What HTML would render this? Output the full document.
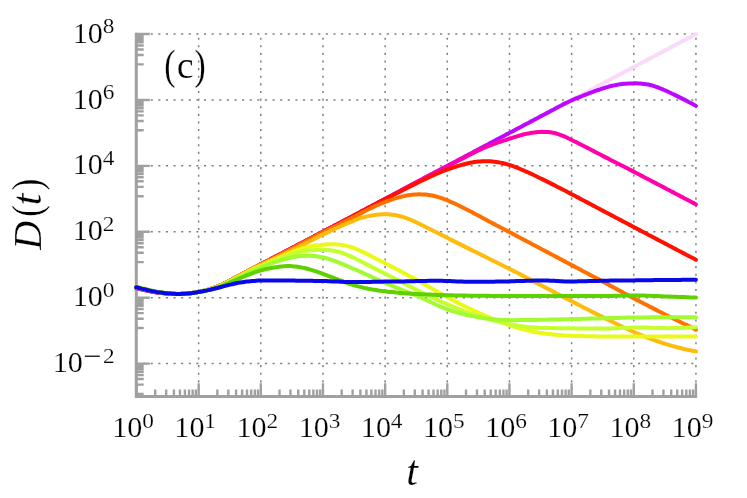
<!DOCTYPE html>
<html><head><meta charset="utf-8"><title>D(t)</title>
<style>html,body{margin:0;padding:0;background:#fff}svg{display:block;will-change:transform}</style>
</head><body>
<svg width="747" height="498" viewBox="0 0 747 498">
<rect width="747" height="498" fill="#fff"/>
<path d="M198.66,397.63V33.02M260.82,397.63V33.02M322.98,397.63V33.02M385.14,397.63V33.02M447.30,397.63V33.02M509.46,397.63V33.02M571.62,397.63V33.02M633.78,397.63V33.02M695.94,397.63V33.02M135.45,363.62H696.94M135.45,297.70H696.94M135.45,231.78H696.94M135.45,165.86H696.94M135.45,99.94H696.94M135.45,34.02H696.94" fill="none" stroke="#808080" stroke-width="1.5" stroke-dasharray="2.1 5.515"/>
<path d="M136.50,396.58v-13.3M155.21,396.58v-7.2M166.16,396.58v-7.2M173.92,396.58v-7.2M179.95,396.58v-7.2M184.87,396.58v-7.2M189.03,396.58v-7.2M192.64,396.58v-7.2M195.82,396.58v-7.2M198.66,396.58v-13.3M217.37,396.58v-7.2M228.32,396.58v-7.2M236.08,396.58v-7.2M242.11,396.58v-7.2M247.03,396.58v-7.2M251.19,396.58v-7.2M254.80,396.58v-7.2M257.98,396.58v-7.2M260.82,396.58v-13.3M279.53,396.58v-7.2M290.48,396.58v-7.2M298.24,396.58v-7.2M304.27,396.58v-7.2M309.19,396.58v-7.2M313.35,396.58v-7.2M316.96,396.58v-7.2M320.14,396.58v-7.2M322.98,396.58v-13.3M341.69,396.58v-7.2M352.64,396.58v-7.2M360.40,396.58v-7.2M366.43,396.58v-7.2M371.35,396.58v-7.2M375.51,396.58v-7.2M379.12,396.58v-7.2M382.30,396.58v-7.2M385.14,396.58v-13.3M403.85,396.58v-7.2M414.80,396.58v-7.2M422.56,396.58v-7.2M428.59,396.58v-7.2M433.51,396.58v-7.2M437.67,396.58v-7.2M441.28,396.58v-7.2M444.46,396.58v-7.2M447.30,396.58v-13.3M466.01,396.58v-7.2M476.96,396.58v-7.2M484.72,396.58v-7.2M490.75,396.58v-7.2M495.67,396.58v-7.2M499.83,396.58v-7.2M503.44,396.58v-7.2M506.62,396.58v-7.2M509.46,396.58v-13.3M528.17,396.58v-7.2M539.12,396.58v-7.2M546.88,396.58v-7.2M552.91,396.58v-7.2M557.83,396.58v-7.2M561.99,396.58v-7.2M565.60,396.58v-7.2M568.78,396.58v-7.2M571.62,396.58v-13.3M590.33,396.58v-7.2M601.28,396.58v-7.2M609.04,396.58v-7.2M615.07,396.58v-7.2M619.99,396.58v-7.2M624.15,396.58v-7.2M627.76,396.58v-7.2M630.94,396.58v-7.2M633.78,396.58v-13.3M652.49,396.58v-7.2M663.44,396.58v-7.2M671.20,396.58v-7.2M677.23,396.58v-7.2M682.15,396.58v-7.2M686.31,396.58v-7.2M689.92,396.58v-7.2M693.10,396.58v-7.2M695.94,396.58v-13.3M136.50,363.62h13.3M136.50,297.70h13.3M136.50,231.78h13.3M136.50,165.86h13.3M136.50,99.94h13.3M136.50,34.02h13.3M136.50,393.97h7.2M136.50,384.66h7.2M136.50,379.06h7.2M136.50,375.05h7.2M136.50,371.92h7.2M136.50,369.35h7.2M136.50,367.18h7.2M136.50,365.29h7.2M136.50,328.05h7.2M136.50,318.74h7.2M136.50,313.14h7.2M136.50,309.13h7.2M136.50,306.00h7.2M136.50,303.43h7.2M136.50,301.26h7.2M136.50,299.37h7.2M136.50,262.13h7.2M136.50,252.82h7.2M136.50,247.22h7.2M136.50,243.21h7.2M136.50,240.08h7.2M136.50,237.51h7.2M136.50,235.34h7.2M136.50,233.45h7.2M136.50,196.21h7.2M136.50,186.90h7.2M136.50,181.30h7.2M136.50,177.29h7.2M136.50,174.16h7.2M136.50,171.59h7.2M136.50,169.42h7.2M136.50,167.53h7.2M136.50,130.29h7.2M136.50,120.98h7.2M136.50,115.38h7.2M136.50,111.37h7.2M136.50,108.24h7.2M136.50,105.67h7.2M136.50,103.50h7.2M136.50,101.61h7.2M136.50,64.37h7.2M136.50,55.06h7.2M136.50,49.46h7.2M136.50,45.45h7.2M136.50,42.32h7.2M136.50,39.75h7.2M136.50,37.58h7.2M136.50,35.69h7.2" fill="none" stroke="#a0a0a0" stroke-width="2.4"/>
<path d="M136.30,32.82V396.58H697.14" fill="none" stroke="#a0a0a0" stroke-width="3" stroke-linejoin="miter"/>
<g fill="none" stroke-width="4.0" stroke-linecap="round" stroke-linejoin="round">
<path stroke="#fad9fa" d="M136.2,287.8 138.2,288.3 140.2,288.9 142.2,289.4 144.2,289.9 146.2,290.3 148.2,290.8 150.2,291.2 152.2,291.5 154.2,291.9 156.2,292.2 158.2,292.5 160.2,292.8 162.2,293.1 164.2,293.3 166.2,293.4 168.2,293.6 170.2,293.7 172.2,293.8 174.2,293.9 176.2,293.9 178.2,293.9 180.2,293.9 182.2,293.8 184.2,293.7 186.2,293.6 188.2,293.4 190.2,293.2 192.2,293.0 194.2,292.7 196.2,292.4 198.2,292.0 200.2,291.6 202.2,291.2 204.2,290.7 206.2,290.2 208.2,289.7 210.2,289.1 212.2,288.5 214.2,287.8 216.2,287.0 218.2,286.2 220.2,285.4 222.2,284.5 224.2,283.5 226.2,282.5 228.2,281.5 230.2,280.5 232.2,279.4 234.2,278.4 236.2,277.3 238.2,276.2 240.2,275.2 242.2,274.1 244.2,273.0 246.2,272.0 248.2,270.9 250.2,269.8 252.2,268.8 254.2,267.7 256.2,266.7 258.2,265.7 260.2,264.6 262.2,263.6 264.2,262.6 266.2,261.5 268.2,260.5 270.2,259.4 272.2,258.4 274.2,257.3 276.2,256.3 278.2,255.3 280.2,254.2 282.2,253.2 284.2,252.1 286.2,251.1 288.2,250.0 290.2,249.0 292.2,247.9 294.2,246.9 296.2,245.8 298.2,244.8 300.2,243.7 302.2,242.7 304.2,241.7 306.2,240.6 308.2,239.6 310.2,238.5 312.2,237.5 314.2,236.4 316.2,235.4 318.2,234.3 320.2,233.3 322.2,232.2 324.2,231.2 326.2,230.1 328.2,229.1 330.2,228.0 332.2,227.0 334.2,225.9 336.2,224.9 338.2,223.8 340.2,222.8 342.2,221.7 344.2,220.6 346.2,219.6 348.2,218.5 350.2,217.5 352.2,216.4 354.2,215.3 356.2,214.3 358.2,213.2 360.2,212.2 362.2,211.1 364.2,210.0 366.2,209.0 368.2,207.9 370.2,206.9 372.2,205.8 374.2,204.7 376.2,203.7 378.2,202.6 380.2,201.5 382.2,200.5 384.2,199.4 386.2,198.4 388.2,197.3 390.2,196.2 392.2,195.2 394.2,194.1 396.2,193.0 398.2,192.0 400.2,190.9 402.2,189.8 404.2,188.8 406.2,187.7 408.2,186.7 410.2,185.6 412.2,184.5 414.2,183.5 416.2,182.4 418.2,181.3 420.2,180.3 422.2,179.2 424.2,178.1 426.2,177.1 428.2,176.0 430.2,174.9 432.2,173.9 434.2,172.8 436.2,171.8 438.2,170.7 440.2,169.6 442.2,168.6 444.2,167.5 446.2,166.5 448.2,165.4 450.2,164.3 452.2,163.3 454.2,162.2 456.2,161.2 458.2,160.1 460.2,159.0 462.2,158.0 464.2,156.9 466.2,155.9 468.2,154.8 470.2,153.7 472.2,152.7 474.2,151.6 476.2,150.6 478.2,149.5 480.2,148.4 482.2,147.4 484.2,146.3 486.2,145.2 488.2,144.2 490.2,143.1 492.2,142.1 494.2,141.0 496.2,139.9 498.2,138.9 500.2,137.8 502.2,136.8 504.2,135.7 506.2,134.6 508.2,133.6 510.2,132.5 512.2,131.5 514.2,130.4 516.2,129.3 518.2,128.3 520.2,127.2 522.2,126.2 524.2,125.1 526.2,124.0 528.2,123.0 530.2,121.9 532.2,120.9 534.2,119.8 536.2,118.7 538.2,117.7 540.2,116.6 542.2,115.6 544.2,114.5 546.2,113.4 548.2,112.4 550.2,111.3 552.2,110.3 554.2,109.2 556.2,108.1 558.2,107.1 560.2,106.0 562.2,105.0 564.2,103.9 566.2,102.8 568.2,101.8 570.2,100.7 572.2,99.7 574.2,98.6 576.2,97.5 578.2,96.5 580.2,95.4 582.2,94.3 584.2,93.3 586.2,92.2 588.2,91.2 590.2,90.1 592.2,89.0 594.2,88.0 596.2,86.9 598.2,85.9 600.2,84.8 602.2,83.7 604.2,82.7 606.2,81.6 608.2,80.6 610.2,79.5 612.2,78.4 614.2,77.4 616.2,76.3 618.2,75.3 620.2,74.2 622.2,73.1 624.2,72.1 626.2,71.0 628.2,70.0 630.2,68.9 632.2,67.8 634.2,66.8 636.2,65.7 638.2,64.7 640.2,63.6 642.2,62.5 644.2,61.5 646.2,60.4 648.2,59.4 650.2,58.3 652.2,57.2 654.2,56.2 656.2,55.1 658.2,54.1 660.2,53.0 662.2,51.9 664.2,50.9 666.2,49.8 668.2,48.8 670.2,47.7 672.2,46.6 674.2,45.6 676.2,44.5 678.2,43.4 680.2,42.4 682.2,41.3 684.2,40.3 686.2,39.2 688.2,38.1 690.2,37.1 692.2,36.0 694.2,35.0 695.9,34.0"/>
<path stroke="#bd08ff" d="M136.2,287.9 138.2,288.4 140.2,289.0 142.2,289.5 144.2,290.0 146.2,290.4 148.2,290.9 150.2,291.3 152.2,291.6 154.2,292.0 156.2,292.3 158.2,292.6 160.2,292.9 162.2,293.1 164.2,293.3 166.2,293.5 168.2,293.6 170.2,293.7 172.2,293.8 174.2,293.9 176.2,293.9 178.2,293.9 180.2,293.9 182.2,293.8 184.2,293.7 186.2,293.6 188.2,293.4 190.2,293.2 192.2,293.0 194.2,292.7 196.2,292.4 198.2,292.0 200.2,291.6 202.2,291.2 204.2,290.7 206.2,290.2 208.2,289.7 210.2,289.1 212.2,288.5 214.2,287.8 216.2,287.0 218.2,286.2 220.2,285.4 222.2,284.5 224.2,283.5 226.2,282.5 228.2,281.5 230.2,280.5 232.2,279.4 234.2,278.4 236.2,277.3 238.2,276.2 240.2,275.2 242.2,274.1 244.2,273.0 246.2,272.0 248.2,270.9 250.2,269.8 252.2,268.8 254.2,267.7 256.2,266.7 258.2,265.7 260.2,264.6 262.2,263.6 264.2,262.6 266.2,261.5 268.2,260.5 270.2,259.4 272.2,258.4 274.2,257.3 276.2,256.3 278.2,255.3 280.2,254.2 282.2,253.2 284.2,252.1 286.2,251.1 288.2,250.0 290.2,249.0 292.2,247.9 294.2,246.9 296.2,245.8 298.2,244.8 300.2,243.7 302.2,242.7 304.2,241.7 306.2,240.6 308.2,239.6 310.2,238.5 312.2,237.5 314.2,236.4 316.2,235.4 318.2,234.3 320.2,233.3 322.2,232.2 324.2,231.2 326.2,230.1 328.2,229.1 330.2,228.0 332.2,227.0 334.2,225.9 336.2,224.9 338.2,223.8 340.2,222.8 342.2,221.7 344.2,220.6 346.2,219.6 348.2,218.5 350.2,217.5 352.2,216.4 354.2,215.3 356.2,214.3 358.2,213.2 360.2,212.2 362.2,211.1 364.2,210.0 366.2,209.0 368.2,207.9 370.2,206.9 372.2,205.8 374.2,204.7 376.2,203.7 378.2,202.6 380.2,201.5 382.2,200.5 384.2,199.4 386.2,198.4 388.2,197.3 390.2,196.2 392.2,195.2 394.2,194.1 396.2,193.0 398.2,192.0 400.2,190.9 402.2,189.8 404.2,188.8 406.2,187.7 408.2,186.7 410.2,185.6 412.2,184.5 414.2,183.5 416.2,182.4 418.2,181.3 420.2,180.3 422.2,179.2 424.2,178.1 426.2,177.1 428.2,176.0 430.2,174.9 432.2,173.9 434.2,172.8 436.2,171.8 438.2,170.7 440.2,169.6 442.2,168.6 444.2,167.5 446.2,166.5 448.2,165.4 450.2,164.3 452.2,163.3 454.2,162.2 456.2,161.2 458.2,160.1 460.2,159.0 462.2,158.0 464.2,156.9 466.2,155.9 468.2,154.8 470.2,153.7 472.2,152.7 474.2,151.6 476.2,150.6 478.2,149.5 480.2,148.4 482.2,147.4 484.2,146.3 486.2,145.2 488.2,144.2 490.2,143.1 492.2,142.1 494.2,141.0 496.2,139.9 498.2,138.9 500.2,137.8 502.2,136.8 504.2,135.7 506.2,134.6 508.2,133.6 510.2,132.5 512.2,131.5 514.2,130.4 516.2,129.3 518.2,128.3 520.2,127.2 522.2,126.2 524.2,125.1 526.2,124.0 528.2,123.0 530.2,121.9 532.2,120.9 534.2,119.8 536.2,118.7 538.2,117.7 540.2,116.6 542.2,115.5 544.2,114.5 546.2,113.4 548.2,112.4 550.2,111.3 552.2,110.2 554.2,109.2 556.2,108.1 558.2,107.0 560.2,106.0 562.2,104.9 564.2,103.9 566.2,102.9 568.2,102.0 570.2,101.0 572.2,100.1 574.2,99.2 576.2,98.4 578.2,97.6 580.2,96.8 582.2,96.0 584.2,95.2 586.2,94.5 588.2,93.7 590.2,92.9 592.2,92.2 594.2,91.4 596.2,90.7 598.2,90.0 600.2,89.3 602.2,88.6 604.2,88.0 606.2,87.4 608.2,86.8 610.2,86.3 612.2,85.8 614.2,85.4 616.2,85.0 618.2,84.6 620.2,84.3 622.2,84.0 624.2,83.8 626.2,83.7 628.2,83.5 630.2,83.4 632.2,83.4 634.2,83.3 636.2,83.3 638.2,83.4 640.2,83.5 642.2,83.7 644.2,83.9 646.2,84.2 648.2,84.5 650.2,85.0 652.2,85.5 654.2,86.1 656.2,86.8 658.2,87.5 660.2,88.3 662.2,89.1 664.2,90.0 666.2,90.9 668.2,91.8 670.2,92.7 672.2,93.7 674.2,94.6 676.2,95.6 678.2,96.6 680.2,97.6 682.2,98.6 684.2,99.6 686.2,100.6 688.2,101.7 690.2,102.7 692.2,103.8 694.2,104.9 695.9,105.9"/>
<path stroke="#ff00aa" d="M136.2,288.0 138.2,288.5 140.2,289.1 142.2,289.6 144.2,290.1 146.2,290.5 148.2,290.9 150.2,291.3 152.2,291.7 154.2,292.1 156.2,292.4 158.2,292.7 160.2,292.9 162.2,293.1 164.2,293.3 166.2,293.5 168.2,293.6 170.2,293.7 172.2,293.8 174.2,293.9 176.2,293.9 178.2,293.9 180.2,293.9 182.2,293.8 184.2,293.7 186.2,293.6 188.2,293.4 190.2,293.2 192.2,293.0 194.2,292.7 196.2,292.4 198.2,292.0 200.2,291.6 202.2,291.2 204.2,290.7 206.2,290.2 208.2,289.7 210.2,289.1 212.2,288.5 214.2,287.8 216.2,287.0 218.2,286.2 220.2,285.4 222.2,284.5 224.2,283.5 226.2,282.5 228.2,281.5 230.2,280.5 232.2,279.4 234.2,278.4 236.2,277.3 238.2,276.2 240.2,275.2 242.2,274.1 244.2,273.0 246.2,272.0 248.2,270.9 250.2,269.8 252.2,268.8 254.2,267.7 256.2,266.7 258.2,265.7 260.2,264.6 262.2,263.6 264.2,262.6 266.2,261.5 268.2,260.5 270.2,259.4 272.2,258.4 274.2,257.3 276.2,256.3 278.2,255.3 280.2,254.2 282.2,253.2 284.2,252.1 286.2,251.1 288.2,250.0 290.2,249.0 292.2,247.9 294.2,246.9 296.2,245.8 298.2,244.8 300.2,243.7 302.2,242.7 304.2,241.7 306.2,240.6 308.2,239.6 310.2,238.5 312.2,237.5 314.2,236.4 316.2,235.4 318.2,234.3 320.2,233.3 322.2,232.2 324.2,231.2 326.2,230.1 328.2,229.1 330.2,228.0 332.2,227.0 334.2,225.9 336.2,224.9 338.2,223.8 340.2,222.8 342.2,221.7 344.2,220.6 346.2,219.6 348.2,218.5 350.2,217.5 352.2,216.4 354.2,215.3 356.2,214.3 358.2,213.2 360.2,212.2 362.2,211.1 364.2,210.0 366.2,209.0 368.2,207.9 370.2,206.9 372.2,205.8 374.2,204.7 376.2,203.7 378.2,202.6 380.2,201.5 382.2,200.5 384.2,199.4 386.2,198.4 388.2,197.3 390.2,196.2 392.2,195.2 394.2,194.1 396.2,193.0 398.2,192.0 400.2,190.9 402.2,189.8 404.2,188.8 406.2,187.7 408.2,186.6 410.2,185.6 412.2,184.5 414.2,183.4 416.2,182.4 418.2,181.3 420.2,180.2 422.2,179.2 424.2,178.1 426.2,177.1 428.2,176.0 430.2,175.0 432.2,174.0 434.2,172.9 436.2,171.9 438.2,170.9 440.2,169.8 442.2,168.8 444.2,167.8 446.2,166.7 448.2,165.7 450.2,164.7 452.2,163.7 454.2,162.7 456.2,161.7 458.2,160.6 460.2,159.6 462.2,158.6 464.2,157.6 466.2,156.6 468.2,155.5 470.2,154.5 472.2,153.5 474.2,152.5 476.2,151.5 478.2,150.5 480.2,149.6 482.2,148.7 484.2,147.8 486.2,147.0 488.2,146.2 490.2,145.4 492.2,144.6 494.2,143.9 496.2,143.1 498.2,142.4 500.2,141.8 502.2,141.1 504.2,140.4 506.2,139.8 508.2,139.1 510.2,138.5 512.2,137.8 514.2,137.2 516.2,136.6 518.2,136.0 520.2,135.4 522.2,134.8 524.2,134.3 526.2,133.9 528.2,133.5 530.2,133.1 532.2,132.8 534.2,132.5 536.2,132.2 538.2,132.0 540.2,131.9 542.2,131.8 544.2,131.9 546.2,131.9 548.2,132.1 550.2,132.3 552.2,132.6 554.2,133.0 556.2,133.5 558.2,134.1 560.2,134.8 562.2,135.6 564.2,136.4 566.2,137.3 568.2,138.3 570.2,139.2 572.2,140.2 574.2,141.2 576.2,142.1 578.2,143.2 580.2,144.2 582.2,145.2 584.2,146.2 586.2,147.2 588.2,148.3 590.2,149.3 592.2,150.4 594.2,151.4 596.2,152.5 598.2,153.5 600.2,154.5 602.2,155.6 604.2,156.6 606.2,157.6 608.2,158.6 610.2,159.7 612.2,160.7 614.2,161.7 616.2,162.7 618.2,163.7 620.2,164.7 622.2,165.7 624.2,166.8 626.2,167.8 628.2,168.8 630.2,169.9 632.2,170.9 634.2,171.9 636.2,173.0 638.2,174.0 640.2,175.1 642.2,176.1 644.2,177.2 646.2,178.2 648.2,179.3 650.2,180.3 652.2,181.4 654.2,182.4 656.2,183.4 658.2,184.5 660.2,185.5 662.2,186.6 664.2,187.6 666.2,188.7 668.2,189.7 670.2,190.8 672.2,191.9 674.2,192.9 676.2,194.0 678.2,195.0 680.2,196.1 682.2,197.1 684.2,198.2 686.2,199.2 688.2,200.3 690.2,201.3 692.2,202.4 694.2,203.4 695.9,204.4"/>
<path stroke="#ff1000" d="M136.2,287.3 138.2,287.8 140.2,288.3 142.2,288.9 144.2,289.3 146.2,289.8 148.2,290.3 150.2,290.7 152.2,291.1 154.2,291.5 156.2,291.9 158.2,292.2 160.2,292.5 162.2,292.8 164.2,293.1 166.2,293.3 168.2,293.5 170.2,293.6 172.2,293.7 174.2,293.8 176.2,293.9 178.2,293.9 180.2,293.9 182.2,293.8 184.2,293.7 186.2,293.6 188.2,293.4 190.2,293.2 192.2,293.0 194.2,292.7 196.2,292.4 198.2,292.0 200.2,291.6 202.2,291.2 204.2,290.7 206.2,290.2 208.2,289.7 210.2,289.1 212.2,288.5 214.2,287.8 216.2,287.0 218.2,286.2 220.2,285.4 222.2,284.5 224.2,283.5 226.2,282.5 228.2,281.5 230.2,280.5 232.2,279.4 234.2,278.4 236.2,277.3 238.2,276.2 240.2,275.2 242.2,274.1 244.2,273.0 246.2,272.0 248.2,270.9 250.2,269.8 252.2,268.8 254.2,267.7 256.2,266.7 258.2,265.7 260.2,264.6 262.2,263.6 264.2,262.6 266.2,261.5 268.2,260.5 270.2,259.4 272.2,258.4 274.2,257.3 276.2,256.3 278.2,255.3 280.2,254.2 282.2,253.2 284.2,252.1 286.2,251.1 288.2,250.0 290.2,249.0 292.2,247.9 294.2,246.9 296.2,245.8 298.2,244.8 300.2,243.7 302.2,242.7 304.2,241.7 306.2,240.6 308.2,239.6 310.2,238.5 312.2,237.5 314.2,236.4 316.2,235.4 318.2,234.3 320.2,233.3 322.2,232.2 324.2,231.2 326.2,230.1 328.2,229.1 330.2,228.0 332.2,227.0 334.2,225.9 336.2,224.9 338.2,223.8 340.2,222.8 342.2,221.7 344.2,220.6 346.2,219.6 348.2,218.5 350.2,217.5 352.2,216.4 354.2,215.3 356.2,214.3 358.2,213.2 360.2,212.1 362.2,211.1 364.2,210.0 366.2,208.9 368.2,207.9 370.2,206.8 372.2,205.8 374.2,204.7 376.2,203.7 378.2,202.7 380.2,201.6 382.2,200.6 384.2,199.6 386.2,198.6 388.2,197.6 390.2,196.5 392.2,195.5 394.2,194.5 396.2,193.5 398.2,192.5 400.2,191.4 402.2,190.4 404.2,189.4 406.2,188.4 408.2,187.4 410.2,186.4 412.2,185.4 414.2,184.4 416.2,183.4 418.2,182.4 420.2,181.4 422.2,180.5 424.2,179.5 426.2,178.6 428.2,177.6 430.2,176.7 432.2,175.8 434.2,174.9 436.2,174.0 438.2,173.2 440.2,172.3 442.2,171.5 444.2,170.7 446.2,170.0 448.2,169.2 450.2,168.5 452.2,167.8 454.2,167.1 456.2,166.5 458.2,165.9 460.2,165.3 462.2,164.7 464.2,164.2 466.2,163.7 468.2,163.2 470.2,162.8 472.2,162.4 474.2,162.1 476.2,161.8 478.2,161.6 480.2,161.4 482.2,161.3 484.2,161.2 486.2,161.2 488.2,161.2 490.2,161.3 492.2,161.5 494.2,161.7 496.2,161.9 498.2,162.2 500.2,162.6 502.2,163.0 504.2,163.5 506.2,164.0 508.2,164.6 510.2,165.2 512.2,165.9 514.2,166.6 516.2,167.4 518.2,168.2 520.2,169.0 522.2,169.9 524.2,170.7 526.2,171.6 528.2,172.5 530.2,173.4 532.2,174.3 534.2,175.3 536.2,176.2 538.2,177.2 540.2,178.2 542.2,179.1 544.2,180.1 546.2,181.1 548.2,182.1 550.2,183.1 552.2,184.1 554.2,185.1 556.2,186.2 558.2,187.2 560.2,188.2 562.2,189.3 564.2,190.3 566.2,191.3 568.2,192.4 570.2,193.4 572.2,194.5 574.2,195.5 576.2,196.6 578.2,197.6 580.2,198.7 582.2,199.8 584.2,200.8 586.2,201.9 588.2,202.9 590.2,204.0 592.2,205.1 594.2,206.1 596.2,207.2 598.2,208.2 600.2,209.3 602.2,210.4 604.2,211.4 606.2,212.5 608.2,213.5 610.2,214.6 612.2,215.6 614.2,216.7 616.2,217.8 618.2,218.8 620.2,219.9 622.2,220.9 624.2,222.0 626.2,223.0 628.2,224.1 630.2,225.1 632.2,226.2 634.2,227.3 636.2,228.3 638.2,229.4 640.2,230.4 642.2,231.5 644.2,232.5 646.2,233.6 648.2,234.7 650.2,235.7 652.2,236.8 654.2,237.8 656.2,238.9 658.2,239.9 660.2,241.0 662.2,242.0 664.2,243.1 666.2,244.1 668.2,245.2 670.2,246.2 672.2,247.3 674.2,248.4 676.2,249.4 678.2,250.5 680.2,251.5 682.2,252.6 684.2,253.6 686.2,254.7 688.2,255.7 690.2,256.8 692.2,257.8 694.2,258.8 695.9,259.8"/>
<path stroke="#ff7000" d="M136.2,287.3 138.2,287.8 140.2,288.3 142.2,288.9 144.2,289.3 146.2,289.8 148.2,290.3 150.2,290.7 152.2,291.1 154.2,291.5 156.2,291.9 158.2,292.2 160.2,292.5 162.2,292.8 164.2,293.1 166.2,293.3 168.2,293.5 170.2,293.6 172.2,293.7 174.2,293.8 176.2,293.9 178.2,293.9 180.2,293.9 182.2,293.8 184.2,293.7 186.2,293.6 188.2,293.4 190.2,293.2 192.2,293.0 194.2,292.7 196.2,292.4 198.2,292.0 200.2,291.6 202.2,291.2 204.2,290.7 206.2,290.2 208.2,289.7 210.2,289.1 212.2,288.5 214.2,287.8 216.2,287.0 218.2,286.2 220.2,285.4 222.2,284.5 224.2,283.5 226.2,282.5 228.2,281.5 230.2,280.5 232.2,279.4 234.2,278.4 236.2,277.3 238.2,276.2 240.2,275.2 242.2,274.1 244.2,273.0 246.2,272.0 248.2,270.9 250.2,269.9 252.2,268.8 254.2,267.8 256.2,266.8 258.2,265.8 260.2,264.8 262.2,263.8 264.2,262.8 266.2,261.8 268.2,260.8 270.2,259.8 272.2,258.8 274.2,257.7 276.2,256.7 278.2,255.7 280.2,254.7 282.2,253.6 284.2,252.6 286.2,251.6 288.2,250.5 290.2,249.5 292.2,248.5 294.2,247.4 296.2,246.4 298.2,245.3 300.2,244.3 302.2,243.2 304.2,242.2 306.2,241.1 308.2,240.1 310.2,239.1 312.2,238.0 314.2,237.0 316.2,235.9 318.2,234.9 320.2,233.9 322.2,232.8 324.2,231.8 326.2,230.8 328.2,229.8 330.2,228.8 332.2,227.8 334.2,226.8 336.2,225.9 338.2,224.9 340.2,223.9 342.2,222.9 344.2,221.9 346.2,220.9 348.2,219.9 350.2,218.9 352.2,217.8 354.2,216.8 356.2,215.7 358.2,214.7 360.2,213.6 362.2,212.6 364.2,211.5 366.2,210.5 368.2,209.5 370.2,208.5 372.2,207.6 374.2,206.6 376.2,205.7 378.2,204.8 380.2,204.0 382.2,203.1 384.2,202.3 386.2,201.5 388.2,200.8 390.2,200.1 392.2,199.4 394.2,198.7 396.2,198.1 398.2,197.6 400.2,197.0 402.2,196.5 404.2,196.1 406.2,195.6 408.2,195.3 410.2,195.0 412.2,194.7 414.2,194.5 416.2,194.4 418.2,194.3 420.2,194.3 422.2,194.4 424.2,194.5 426.2,194.6 428.2,194.9 430.2,195.2 432.2,195.5 434.2,196.0 436.2,196.5 438.2,197.1 440.2,197.7 442.2,198.4 444.2,199.2 446.2,199.9 448.2,200.7 450.2,201.6 452.2,202.5 454.2,203.4 456.2,204.3 458.2,205.2 460.2,206.2 462.2,207.2 464.2,208.2 466.2,209.2 468.2,210.2 470.2,211.3 472.2,212.3 474.2,213.4 476.2,214.5 478.2,215.5 480.2,216.6 482.2,217.7 484.2,218.8 486.2,219.8 488.2,220.9 490.2,222.0 492.2,223.1 494.2,224.1 496.2,225.2 498.2,226.2 500.2,227.3 502.2,228.3 504.2,229.4 506.2,230.4 508.2,231.5 510.2,232.5 512.2,233.6 514.2,234.6 516.2,235.7 518.2,236.8 520.2,237.8 522.2,238.9 524.2,239.9 526.2,241.0 528.2,242.0 530.2,243.1 532.2,244.2 534.2,245.2 536.2,246.3 538.2,247.3 540.2,248.4 542.2,249.5 544.2,250.5 546.2,251.6 548.2,252.6 550.2,253.7 552.2,254.8 554.2,255.8 556.2,256.9 558.2,257.9 560.2,259.0 562.2,260.1 564.2,261.1 566.2,262.2 568.2,263.2 570.2,264.3 572.2,265.4 574.2,266.4 576.2,267.5 578.2,268.5 580.2,269.6 582.2,270.7 584.2,271.7 586.2,272.8 588.2,273.8 590.2,274.9 592.2,276.0 594.2,277.0 596.2,278.1 598.2,279.1 600.2,280.2 602.2,281.3 604.2,282.4 606.2,283.4 608.2,284.5 610.2,285.6 612.2,286.7 614.2,287.8 616.2,288.8 618.2,289.9 620.2,291.0 622.2,292.1 624.2,293.2 626.2,294.2 628.2,295.3 630.2,296.4 632.2,297.4 634.2,298.5 636.2,299.6 638.2,300.6 640.2,301.7 642.2,302.7 644.2,303.8 646.2,304.8 648.2,305.8 650.2,306.9 652.2,307.9 654.2,308.9 656.2,309.9 658.2,311.0 660.2,312.0 662.2,313.0 664.2,314.0 666.2,315.0 668.2,316.0 670.2,317.0 672.2,318.0 674.2,319.0 676.2,320.0 678.2,321.0 680.2,322.0 682.2,323.0 684.2,324.0 686.2,324.9 688.2,325.9 690.2,326.9 692.2,327.8 694.2,328.8 695.9,329.7"/>
<path stroke="#ffbb0c" d="M136.2,287.3 138.2,287.8 140.2,288.3 142.2,288.9 144.2,289.3 146.2,289.8 148.2,290.3 150.2,290.7 152.2,291.1 154.2,291.5 156.2,291.9 158.2,292.2 160.2,292.5 162.2,292.8 164.2,293.1 166.2,293.3 168.2,293.5 170.2,293.6 172.2,293.7 174.2,293.8 176.2,293.9 178.2,293.9 180.2,293.9 182.2,293.8 184.2,293.7 186.2,293.6 188.2,293.4 190.2,293.2 192.2,293.0 194.2,292.7 196.2,292.4 198.2,292.0 200.2,291.6 202.2,291.2 204.2,290.7 206.2,290.2 208.2,289.7 210.2,289.1 212.2,288.5 214.2,287.8 216.2,287.0 218.2,286.2 220.2,285.4 222.2,284.5 224.2,283.5 226.2,282.5 228.2,281.5 230.2,280.5 232.2,279.4 234.2,278.4 236.2,277.3 238.2,276.2 240.2,275.2 242.2,274.1 244.2,273.0 246.2,272.0 248.2,270.9 250.2,269.9 252.2,268.9 254.2,267.9 256.2,267.0 258.2,266.1 260.2,265.1 262.2,264.2 264.2,263.2 266.2,262.3 268.2,261.4 270.2,260.4 272.2,259.5 274.2,258.5 276.2,257.6 278.2,256.6 280.2,255.7 282.2,254.7 284.2,253.8 286.2,252.8 288.2,251.9 290.2,250.9 292.2,250.0 294.2,249.0 296.2,248.1 298.2,247.1 300.2,246.1 302.2,245.1 304.2,244.1 306.2,243.1 308.2,242.1 310.2,241.0 312.2,240.0 314.2,238.9 316.2,237.9 318.2,236.9 320.2,235.8 322.2,234.8 324.2,233.9 326.2,232.9 328.2,232.0 330.2,231.0 332.2,230.1 334.2,229.2 336.2,228.3 338.2,227.4 340.2,226.5 342.2,225.6 344.2,224.7 346.2,223.8 348.2,223.0 350.2,222.1 352.2,221.3 354.2,220.5 356.2,219.7 358.2,218.9 360.2,218.2 362.2,217.6 364.2,217.1 366.2,216.6 368.2,216.1 370.2,215.7 372.2,215.4 374.2,215.1 376.2,214.8 378.2,214.6 380.2,214.4 382.2,214.3 384.2,214.2 386.2,214.3 388.2,214.3 390.2,214.5 392.2,214.7 394.2,214.9 396.2,215.3 398.2,215.7 400.2,216.2 402.2,216.7 404.2,217.4 406.2,218.1 408.2,218.8 410.2,219.6 412.2,220.5 414.2,221.4 416.2,222.3 418.2,223.3 420.2,224.2 422.2,225.2 424.2,226.2 426.2,227.2 428.2,228.2 430.2,229.2 432.2,230.2 434.2,231.2 436.2,232.2 438.2,233.2 440.2,234.2 442.2,235.3 444.2,236.3 446.2,237.3 448.2,238.3 450.2,239.4 452.2,240.4 454.2,241.4 456.2,242.4 458.2,243.4 460.2,244.4 462.2,245.4 464.2,246.4 466.2,247.4 468.2,248.4 470.2,249.4 472.2,250.4 474.2,251.3 476.2,252.3 478.2,253.3 480.2,254.3 482.2,255.3 484.2,256.3 486.2,257.3 488.2,258.3 490.2,259.2 492.2,260.2 494.2,261.2 496.2,262.2 498.2,263.2 500.2,264.2 502.2,265.2 504.2,266.2 506.2,267.2 508.2,268.2 510.2,269.2 512.2,270.2 514.2,271.3 516.2,272.3 518.2,273.3 520.2,274.3 522.2,275.4 524.2,276.4 526.2,277.5 528.2,278.5 530.2,279.5 532.2,280.6 534.2,281.6 536.2,282.7 538.2,283.7 540.2,284.8 542.2,285.8 544.2,286.9 546.2,287.9 548.2,289.0 550.2,290.0 552.2,291.1 554.2,292.1 556.2,293.2 558.2,294.2 560.2,295.3 562.2,296.3 564.2,297.4 566.2,298.4 568.2,299.4 570.2,300.5 572.2,301.5 574.2,302.6 576.2,303.6 578.2,304.6 580.2,305.7 582.2,306.7 584.2,307.7 586.2,308.8 588.2,309.8 590.2,310.8 592.2,311.9 594.2,312.9 596.2,313.9 598.2,314.9 600.2,315.9 602.2,316.9 604.2,317.9 606.2,318.9 608.2,319.9 610.2,320.8 612.2,321.8 614.2,322.8 616.2,323.8 618.2,324.7 620.2,325.7 622.2,326.7 624.2,327.6 626.2,328.5 628.2,329.4 630.2,330.3 632.2,331.2 634.2,332.1 636.2,333.0 638.2,333.8 640.2,334.7 642.2,335.5 644.2,336.3 646.2,337.1 648.2,337.9 650.2,338.6 652.2,339.4 654.2,340.1 656.2,340.8 658.2,341.5 660.2,342.2 662.2,342.9 664.2,343.5 666.2,344.1 668.2,344.7 670.2,345.3 672.2,345.9 674.2,346.4 676.2,347.0 678.2,347.5 680.2,348.0 682.2,348.5 684.2,349.0 686.2,349.4 688.2,349.9 690.2,350.3 692.2,350.7 694.2,351.1 695.9,351.5"/>
<path stroke="#eaf918" d="M136.2,286.7 138.2,287.2 140.2,287.7 142.2,288.2 144.2,288.7 146.2,289.2 148.2,289.7 150.2,290.1 152.2,290.6 154.2,291.0 156.2,291.5 158.2,291.9 160.2,292.2 162.2,292.6 164.2,292.9 166.2,293.1 168.2,293.3 170.2,293.5 172.2,293.7 174.2,293.8 176.2,293.8 178.2,293.9 180.2,293.9 182.2,293.8 184.2,293.7 186.2,293.6 188.2,293.4 190.2,293.2 192.2,293.0 194.2,292.7 196.2,292.4 198.2,292.1 200.2,291.7 202.2,291.3 204.2,290.8 206.2,290.4 208.2,289.9 210.2,289.3 212.2,288.7 214.2,288.1 216.2,287.4 218.2,286.6 220.2,285.8 222.2,285.0 224.2,284.0 226.2,283.1 228.2,282.1 230.2,281.1 232.2,280.1 234.2,279.0 236.2,278.0 238.2,276.9 240.2,275.9 242.2,274.8 244.2,273.8 246.2,272.8 248.2,271.8 250.2,270.8 252.2,269.8 254.2,268.8 256.2,267.8 258.2,266.9 260.2,266.0 262.2,265.1 264.2,264.2 266.2,263.3 268.2,262.5 270.2,261.6 272.2,260.8 274.2,259.9 276.2,259.1 278.2,258.2 280.2,257.4 282.2,256.5 284.2,255.6 286.2,254.7 288.2,253.8 290.2,252.9 292.2,252.1 294.2,251.3 296.2,250.5 298.2,249.8 300.2,249.1 302.2,248.5 304.2,248.0 306.2,247.4 308.2,247.0 310.2,246.5 312.2,246.1 314.2,245.8 316.2,245.5 318.2,245.2 320.2,245.0 322.2,244.7 324.2,244.6 326.2,244.4 328.2,244.3 330.2,244.2 332.2,244.2 334.2,244.3 336.2,244.4 338.2,244.5 340.2,244.8 342.2,245.1 344.2,245.4 346.2,245.9 348.2,246.3 350.2,246.9 352.2,247.5 354.2,248.2 356.2,249.0 358.2,249.8 360.2,250.7 362.2,251.6 364.2,252.6 366.2,253.6 368.2,254.6 370.2,255.6 372.2,256.7 374.2,257.7 376.2,258.7 378.2,259.7 380.2,260.7 382.2,261.8 384.2,262.8 386.2,263.8 388.2,264.8 390.2,265.9 392.2,266.9 394.2,267.9 396.2,269.0 398.2,270.0 400.2,271.1 402.2,272.2 404.2,273.2 406.2,274.3 408.2,275.4 410.2,276.5 412.2,277.5 414.2,278.6 416.2,279.7 418.2,280.8 420.2,281.9 422.2,283.1 424.2,284.2 426.2,285.3 428.2,286.5 430.2,287.6 432.2,288.7 434.2,289.9 436.2,291.0 438.2,292.2 440.2,293.3 442.2,294.4 444.2,295.5 446.2,296.6 448.2,297.7 450.2,298.7 452.2,299.8 454.2,300.8 456.2,301.9 458.2,302.9 460.2,303.9 462.2,305.0 464.2,306.0 466.2,307.0 468.2,308.0 470.2,308.9 472.2,309.9 474.2,310.8 476.2,311.7 478.2,312.6 480.2,313.5 482.2,314.4 484.2,315.3 486.2,316.1 488.2,316.9 490.2,317.7 492.2,318.5 494.2,319.3 496.2,320.1 498.2,320.9 500.2,321.6 502.2,322.4 504.2,323.1 506.2,323.9 508.2,324.6 510.2,325.3 512.2,326.0 514.2,326.7 516.2,327.3 518.2,328.0 520.2,328.5 522.2,329.1 524.2,329.6 526.2,330.1 528.2,330.6 530.2,331.0 532.2,331.5 534.2,331.9 536.2,332.2 538.2,332.5 540.2,332.9 542.2,333.1 544.2,333.4 546.2,333.7 548.2,333.9 550.2,334.1 552.2,334.4 554.2,334.6 556.2,334.8 558.2,334.9 560.2,335.1 562.2,335.3 564.2,335.4 566.2,335.5 568.2,335.6 570.2,335.7 572.2,335.8 574.2,335.9 576.2,336.0 578.2,336.0 580.2,336.1 582.2,336.1 584.2,336.2 586.2,336.2 588.2,336.3 590.2,336.3 592.2,336.3 594.2,336.3 596.2,336.4 598.2,336.4 600.2,336.4 602.2,336.4 604.2,336.4 606.2,336.4 608.2,336.4 610.2,336.4 612.2,336.4 614.2,336.4 616.2,336.4 618.2,336.4 620.2,336.4 622.2,336.4 624.2,336.4 626.2,336.4 628.2,336.4 630.2,336.4 632.2,336.4 634.2,336.4 636.2,336.4 638.2,336.4 640.2,336.4 642.2,336.4 644.2,336.4 646.2,336.4 648.2,336.4 650.2,336.4 652.2,336.4 654.2,336.4 656.2,336.4 658.2,336.4 660.2,336.4 662.2,336.4 664.2,336.4 666.2,336.4 668.2,336.4 670.2,336.4 672.2,336.4 674.2,336.4 676.2,336.4 678.2,336.5 680.2,336.5 682.2,336.5 684.2,336.5 686.2,336.5 688.2,336.5 690.2,336.5 692.2,336.5 694.2,336.5 695.9,336.5"/>
<path stroke="#c6ff2e" d="M136.2,286.8 138.2,287.3 140.2,287.8 142.2,288.3 144.2,288.8 146.2,289.3 148.2,289.8 150.2,290.2 152.2,290.7 154.2,291.1 156.2,291.5 158.2,291.9 160.2,292.3 162.2,292.6 164.2,292.9 166.2,293.1 168.2,293.4 170.2,293.5 172.2,293.7 174.2,293.8 176.2,293.8 178.2,293.9 180.2,293.9 182.2,293.8 184.2,293.7 186.2,293.6 188.2,293.4 190.2,293.2 192.2,293.0 194.2,292.7 196.2,292.4 198.2,292.1 200.2,291.7 202.2,291.3 204.2,290.8 206.2,290.4 208.2,289.9 210.2,289.4 212.2,288.8 214.2,288.2 216.2,287.6 218.2,286.8 220.2,286.1 222.2,285.2 224.2,284.3 226.2,283.4 228.2,282.4 230.2,281.4 232.2,280.4 234.2,279.4 236.2,278.4 238.2,277.3 240.2,276.3 242.2,275.3 244.2,274.2 246.2,273.2 248.2,272.2 250.2,271.3 252.2,270.3 254.2,269.4 256.2,268.5 258.2,267.6 260.2,266.7 262.2,265.8 264.2,265.0 266.2,264.1 268.2,263.3 270.2,262.5 272.2,261.7 274.2,260.9 276.2,260.1 278.2,259.3 280.2,258.5 282.2,257.8 284.2,257.0 286.2,256.2 288.2,255.5 290.2,254.8 292.2,254.1 294.2,253.4 296.2,252.9 298.2,252.3 300.2,251.9 302.2,251.5 304.2,251.1 306.2,250.8 308.2,250.6 310.2,250.4 312.2,250.2 314.2,250.1 316.2,250.0 318.2,249.9 320.2,249.8 322.2,249.8 324.2,249.9 326.2,250.0 328.2,250.1 330.2,250.3 332.2,250.6 334.2,250.9 336.2,251.3 338.2,251.8 340.2,252.3 342.2,253.0 344.2,253.7 346.2,254.5 348.2,255.3 350.2,256.1 352.2,257.1 354.2,258.0 356.2,259.0 358.2,260.0 360.2,261.0 362.2,262.0 364.2,263.0 366.2,264.1 368.2,265.1 370.2,266.1 372.2,267.2 374.2,268.2 376.2,269.2 378.2,270.2 380.2,271.3 382.2,272.3 384.2,273.3 386.2,274.3 388.2,275.3 390.2,276.3 392.2,277.4 394.2,278.4 396.2,279.4 398.2,280.4 400.2,281.5 402.2,282.5 404.2,283.5 406.2,284.5 408.2,285.6 410.2,286.6 412.2,287.6 414.2,288.7 416.2,289.7 418.2,290.7 420.2,291.7 422.2,292.7 424.2,293.6 426.2,294.6 428.2,295.6 430.2,296.6 432.2,297.5 434.2,298.5 436.2,299.4 438.2,300.3 440.2,301.2 442.2,302.1 444.2,303.0 446.2,303.9 448.2,304.7 450.2,305.5 452.2,306.4 454.2,307.2 456.2,308.0 458.2,308.8 460.2,309.6 462.2,310.4 464.2,311.1 466.2,311.9 468.2,312.6 470.2,313.3 472.2,314.0 474.2,314.7 476.2,315.3 478.2,316.0 480.2,316.6 482.2,317.2 484.2,317.8 486.2,318.4 488.2,318.9 490.2,319.5 492.2,320.0 494.2,320.5 496.2,321.0 498.2,321.5 500.2,322.0 502.2,322.5 504.2,322.9 506.2,323.4 508.2,323.8 510.2,324.2 512.2,324.6 514.2,325.0 516.2,325.3 518.2,325.7 520.2,326.0 522.2,326.2 524.2,326.5 526.2,326.7 528.2,327.0 530.2,327.2 532.2,327.3 534.2,327.5 536.2,327.6 538.2,327.8 540.2,327.8 542.2,327.9 544.2,328.0 546.2,328.0 548.2,328.0 550.2,328.1 552.2,328.1 554.2,328.1 556.2,328.2 558.2,328.2 560.2,328.2 562.2,328.2 564.2,328.2 566.2,328.3 568.2,328.3 570.2,328.3 572.2,328.3 574.2,328.3 576.2,328.4 578.2,328.4 580.2,328.4 582.2,328.4 584.2,328.5 586.2,328.5 588.2,328.5 590.2,328.5 592.2,328.6 594.2,328.6 596.2,328.6 598.2,328.6 600.2,328.6 602.2,328.6 604.2,328.5 606.2,328.5 608.2,328.5 610.2,328.4 612.2,328.3 614.2,328.3 616.2,328.2 618.2,328.1 620.2,328.0 622.2,328.0 624.2,327.9 626.2,327.8 628.2,327.8 630.2,327.7 632.2,327.6 634.2,327.6 636.2,327.6 638.2,327.6 640.2,327.6 642.2,327.6 644.2,327.6 646.2,327.6 648.2,327.7 650.2,327.8 652.2,327.8 654.2,327.9 656.2,328.0 658.2,328.0 660.2,328.1 662.2,328.1 664.2,328.1 666.2,328.2 668.2,328.2 670.2,328.1 672.2,328.1 674.2,328.1 676.2,328.0 678.2,328.0 680.2,327.9 682.2,327.9 684.2,327.8 686.2,327.7 688.2,327.6 690.2,327.5 692.2,327.4 694.2,327.3 695.9,327.2"/>
<path stroke="#a2fa30" d="M136.2,287.0 138.2,287.5 140.2,288.0 142.2,288.5 144.2,289.0 146.2,289.5 148.2,290.0 150.2,290.4 152.2,290.9 154.2,291.3 156.2,291.7 158.2,292.0 160.2,292.4 162.2,292.7 164.2,293.0 166.2,293.2 168.2,293.4 170.2,293.6 172.2,293.7 174.2,293.8 176.2,293.9 178.2,293.9 180.2,293.9 182.2,293.8 184.2,293.7 186.2,293.6 188.2,293.4 190.2,293.2 192.2,293.0 194.2,292.7 196.2,292.4 198.2,292.1 200.2,291.7 202.2,291.3 204.2,290.9 206.2,290.4 208.2,290.0 210.2,289.5 212.2,288.9 214.2,288.4 216.2,287.7 218.2,287.0 220.2,286.3 222.2,285.5 224.2,284.6 226.2,283.7 228.2,282.7 230.2,281.8 232.2,280.8 234.2,279.8 236.2,278.8 238.2,277.8 240.2,276.8 242.2,275.8 244.2,274.8 246.2,273.9 248.2,272.9 250.2,272.0 252.2,271.1 254.2,270.2 256.2,269.3 258.2,268.5 260.2,267.7 262.2,266.9 264.2,266.1 266.2,265.3 268.2,264.6 270.2,263.8 272.2,263.1 274.2,262.4 276.2,261.8 278.2,261.1 280.2,260.5 282.2,259.9 284.2,259.3 286.2,258.8 288.2,258.3 290.2,257.8 292.2,257.3 294.2,256.9 296.2,256.6 298.2,256.3 300.2,256.1 302.2,256.0 304.2,255.9 306.2,255.8 308.2,255.8 310.2,255.8 312.2,255.9 314.2,256.1 316.2,256.3 318.2,256.6 320.2,256.9 322.2,257.3 324.2,257.8 326.2,258.3 328.2,258.8 330.2,259.4 332.2,260.1 334.2,260.8 336.2,261.5 338.2,262.3 340.2,263.1 342.2,263.9 344.2,264.8 346.2,265.6 348.2,266.5 350.2,267.3 352.2,268.2 354.2,269.1 356.2,269.9 358.2,270.8 360.2,271.7 362.2,272.6 364.2,273.5 366.2,274.5 368.2,275.4 370.2,276.3 372.2,277.2 374.2,278.1 376.2,279.0 378.2,279.8 380.2,280.7 382.2,281.6 384.2,282.5 386.2,283.3 388.2,284.2 390.2,285.0 392.2,285.9 394.2,286.7 396.2,287.6 398.2,288.4 400.2,289.2 402.2,290.0 404.2,290.8 406.2,291.6 408.2,292.4 410.2,293.2 412.2,293.9 414.2,294.7 416.2,295.5 418.2,296.4 420.2,297.2 422.2,298.1 424.2,299.0 426.2,299.9 428.2,300.9 430.2,301.9 432.2,302.8 434.2,303.8 436.2,304.8 438.2,305.7 440.2,306.6 442.2,307.4 444.2,308.2 446.2,309.0 448.2,309.7 450.2,310.4 452.2,311.0 454.2,311.6 456.2,312.2 458.2,312.7 460.2,313.3 462.2,313.8 464.2,314.3 466.2,314.7 468.2,315.2 470.2,315.6 472.2,316.0 474.2,316.4 476.2,316.8 478.2,317.2 480.2,317.6 482.2,317.9 484.2,318.2 486.2,318.5 488.2,318.7 490.2,319.0 492.2,319.2 494.2,319.3 496.2,319.5 498.2,319.7 500.2,319.8 502.2,319.9 504.2,320.0 506.2,320.1 508.2,320.1 510.2,320.2 512.2,320.2 514.2,320.2 516.2,320.2 518.2,320.1 520.2,320.1 522.2,320.1 524.2,320.1 526.2,320.0 528.2,320.0 530.2,320.0 532.2,319.9 534.2,319.9 536.2,319.9 538.2,319.8 540.2,319.8 542.2,319.8 544.2,319.7 546.2,319.7 548.2,319.6 550.2,319.6 552.2,319.6 554.2,319.5 556.2,319.5 558.2,319.4 560.2,319.4 562.2,319.3 564.2,319.3 566.2,319.2 568.2,319.2 570.2,319.1 572.2,319.1 574.2,319.0 576.2,319.0 578.2,318.9 580.2,318.9 582.2,318.8 584.2,318.8 586.2,318.7 588.2,318.7 590.2,318.6 592.2,318.6 594.2,318.5 596.2,318.5 598.2,318.4 600.2,318.4 602.2,318.3 604.2,318.3 606.2,318.2 608.2,318.2 610.2,318.1 612.2,318.0 614.2,318.0 616.2,317.9 618.2,317.9 620.2,317.8 622.2,317.8 624.2,317.7 626.2,317.6 628.2,317.6 630.2,317.6 632.2,317.5 634.2,317.5 636.2,317.5 638.2,317.4 640.2,317.4 642.2,317.4 644.2,317.4 646.2,317.4 648.2,317.4 650.2,317.3 652.2,317.3 654.2,317.3 656.2,317.3 658.2,317.3 660.2,317.3 662.2,317.3 664.2,317.3 666.2,317.3 668.2,317.3 670.2,317.2 672.2,317.2 674.2,317.2 676.2,317.2 678.2,317.2 680.2,317.2 682.2,317.2 684.2,317.2 686.2,317.2 688.2,317.2 690.2,317.2 692.2,317.2 694.2,317.2 695.9,317.2"/>
<path stroke="#5fd000" d="M136.2,287.3 138.2,287.8 140.2,288.3 142.2,288.9 144.2,289.3 146.2,289.8 148.2,290.3 150.2,290.7 152.2,291.1 154.2,291.5 156.2,291.9 158.2,292.2 160.2,292.5 162.2,292.8 164.2,293.1 166.2,293.3 168.2,293.5 170.2,293.6 172.2,293.7 174.2,293.8 176.2,293.9 178.2,293.9 180.2,293.9 182.2,293.8 184.2,293.7 186.2,293.6 188.2,293.4 190.2,293.2 192.2,293.0 194.2,292.7 196.2,292.4 198.2,292.1 200.2,291.7 202.2,291.3 204.2,290.9 206.2,290.5 208.2,290.1 210.2,289.6 212.2,289.1 214.2,288.5 216.2,287.9 218.2,287.3 220.2,286.6 222.2,285.8 224.2,285.0 226.2,284.1 228.2,283.3 230.2,282.4 232.2,281.5 234.2,280.7 236.2,279.8 238.2,279.0 240.2,278.1 242.2,277.3 244.2,276.5 246.2,275.7 248.2,274.9 250.2,274.1 252.2,273.3 254.2,272.6 256.2,271.9 258.2,271.2 260.2,270.6 262.2,270.0 264.2,269.5 266.2,269.0 268.2,268.6 270.2,268.2 272.2,267.8 274.2,267.5 276.2,267.2 278.2,266.9 280.2,266.6 282.2,266.4 284.2,266.2 286.2,266.1 288.2,266.1 290.2,266.1 292.2,266.2 294.2,266.4 296.2,266.6 298.2,266.9 300.2,267.2 302.2,267.6 304.2,268.0 306.2,268.5 308.2,269.0 310.2,269.6 312.2,270.2 314.2,270.8 316.2,271.4 318.2,272.1 320.2,272.8 322.2,273.5 324.2,274.3 326.2,275.0 328.2,275.8 330.2,276.6 332.2,277.4 334.2,278.2 336.2,279.0 338.2,279.7 340.2,280.5 342.2,281.2 344.2,281.9 346.2,282.6 348.2,283.3 350.2,284.0 352.2,284.6 354.2,285.3 356.2,285.8 358.2,286.4 360.2,286.9 362.2,287.4 364.2,287.9 366.2,288.3 368.2,288.8 370.2,289.1 372.2,289.5 374.2,289.8 376.2,290.1 378.2,290.4 380.2,290.7 382.2,290.9 384.2,291.2 386.2,291.4 388.2,291.7 390.2,291.9 392.2,292.1 394.2,292.3 396.2,292.6 398.2,292.7 400.2,292.9 402.2,293.1 404.2,293.2 406.2,293.4 408.2,293.5 410.2,293.7 412.2,293.8 414.2,293.9 416.2,294.0 418.2,294.1 420.2,294.2 422.2,294.3 424.2,294.4 426.2,294.5 428.2,294.6 430.2,294.6 432.2,294.7 434.2,294.8 436.2,294.9 438.2,294.9 440.2,295.0 442.2,295.1 444.2,295.1 446.2,295.2 448.2,295.2 450.2,295.3 452.2,295.3 454.2,295.4 456.2,295.4 458.2,295.5 460.2,295.5 462.2,295.5 464.2,295.6 466.2,295.6 468.2,295.7 470.2,295.7 472.2,295.7 474.2,295.7 476.2,295.8 478.2,295.8 480.2,295.8 482.2,295.8 484.2,295.8 486.2,295.8 488.2,295.8 490.2,295.9 492.2,295.9 494.2,295.9 496.2,295.9 498.2,295.9 500.2,295.9 502.2,295.9 504.2,295.9 506.2,295.9 508.2,295.9 510.2,295.9 512.2,295.9 514.2,295.9 516.2,295.9 518.2,295.9 520.2,295.9 522.2,295.9 524.2,295.9 526.2,295.9 528.2,295.9 530.2,295.9 532.2,295.9 534.2,295.9 536.2,295.9 538.2,295.9 540.2,295.9 542.2,295.9 544.2,295.9 546.2,295.9 548.2,295.9 550.2,295.9 552.2,295.9 554.2,295.9 556.2,295.9 558.2,295.9 560.2,295.9 562.2,295.9 564.2,295.9 566.2,295.9 568.2,295.9 570.2,295.9 572.2,295.9 574.2,295.9 576.2,295.9 578.2,295.9 580.2,296.0 582.2,296.0 584.2,296.0 586.2,296.0 588.2,296.0 590.2,296.0 592.2,296.1 594.2,296.1 596.2,296.1 598.2,296.1 600.2,296.1 602.2,296.1 604.2,296.0 606.2,296.0 608.2,296.0 610.2,295.9 612.2,295.9 614.2,295.8 616.2,295.8 618.2,295.7 620.2,295.7 622.2,295.6 624.2,295.6 626.2,295.5 628.2,295.5 630.2,295.5 632.2,295.4 634.2,295.4 636.2,295.5 638.2,295.5 640.2,295.5 642.2,295.6 644.2,295.6 646.2,295.7 648.2,295.7 650.2,295.8 652.2,295.9 654.2,296.0 656.2,296.0 658.2,296.1 660.2,296.2 662.2,296.3 664.2,296.4 666.2,296.4 668.2,296.5 670.2,296.6 672.2,296.7 674.2,296.7 676.2,296.8 678.2,296.9 680.2,297.0 682.2,297.0 684.2,297.1 686.2,297.2 688.2,297.3 690.2,297.4 692.2,297.4 694.2,297.5 695.9,297.6"/>
<path stroke="#0808e8" d="M136.2,287.3 138.2,287.8 140.2,288.3 142.2,288.9 144.2,289.3 146.2,289.8 148.2,290.3 150.2,290.7 152.2,291.1 154.2,291.5 156.2,291.9 158.2,292.2 160.2,292.5 162.2,292.8 164.2,293.1 166.2,293.3 168.2,293.5 170.2,293.6 172.2,293.7 174.2,293.8 176.2,293.9 178.2,293.9 180.2,293.9 182.2,293.8 184.2,293.7 186.2,293.6 188.2,293.4 190.2,293.2 192.2,293.0 194.2,292.7 196.2,292.4 198.2,292.1 200.2,291.8 202.2,291.4 204.2,291.0 206.2,290.6 208.2,290.1 210.2,289.7 212.2,289.2 214.2,288.7 216.2,288.2 218.2,287.7 220.2,287.2 222.2,286.7 224.2,286.1 226.2,285.6 228.2,285.1 230.2,284.6 232.2,284.2 234.2,283.7 236.2,283.3 238.2,282.9 240.2,282.5 242.2,282.2 244.2,281.9 246.2,281.6 248.2,281.4 250.2,281.2 252.2,281.0 254.2,280.9 256.2,280.7 258.2,280.6 260.2,280.6 262.2,280.5 264.2,280.5 266.2,280.5 268.2,280.4 270.2,280.4 272.2,280.4 274.2,280.4 276.2,280.4 278.2,280.4 280.2,280.5 282.2,280.5 284.2,280.5 286.2,280.5 288.2,280.6 290.2,280.6 292.2,280.6 294.2,280.6 296.2,280.7 298.2,280.7 300.2,280.7 302.2,280.7 304.2,280.8 306.2,280.8 308.2,280.8 310.2,280.8 312.2,280.8 314.2,280.9 316.2,280.9 318.2,280.9 320.2,281.0 322.2,281.0 324.2,281.1 326.2,281.1 328.2,281.2 330.2,281.3 332.2,281.4 334.2,281.5 336.2,281.5 338.2,281.6 340.2,281.7 342.2,281.8 344.2,281.9 346.2,282.0 348.2,282.0 350.2,282.0 352.2,282.1 354.2,282.1 356.2,282.1 358.2,282.0 360.2,282.0 362.2,282.0 364.2,282.0 366.2,281.9 368.2,281.9 370.2,281.9 372.2,281.8 374.2,281.8 376.2,281.8 378.2,281.7 380.2,281.7 382.2,281.7 384.2,281.6 386.2,281.6 388.2,281.6 390.2,281.5 392.2,281.5 394.2,281.5 396.2,281.5 398.2,281.4 400.2,281.4 402.2,281.4 404.2,281.4 406.2,281.3 408.2,281.3 410.2,281.3 412.2,281.2 414.2,281.2 416.2,281.1 418.2,281.1 420.2,281.0 422.2,281.0 424.2,280.9 426.2,280.9 428.2,280.8 430.2,280.8 432.2,280.8 434.2,280.8 436.2,280.7 438.2,280.8 440.2,280.8 442.2,280.8 444.2,280.9 446.2,280.9 448.2,281.0 450.2,281.1 452.2,281.2 454.2,281.3 456.2,281.4 458.2,281.5 460.2,281.5 462.2,281.6 464.2,281.7 466.2,281.7 468.2,281.7 470.2,281.8 472.2,281.8 474.2,281.8 476.2,281.8 478.2,281.8 480.2,281.8 482.2,281.8 484.2,281.7 486.2,281.7 488.2,281.7 490.2,281.7 492.2,281.7 494.2,281.7 496.2,281.6 498.2,281.6 500.2,281.6 502.2,281.5 504.2,281.5 506.2,281.4 508.2,281.4 510.2,281.3 512.2,281.3 514.2,281.2 516.2,281.1 518.2,281.1 520.2,281.0 522.2,280.9 524.2,280.9 526.2,280.8 528.2,280.8 530.2,280.7 532.2,280.7 534.2,280.6 536.2,280.6 538.2,280.6 540.2,280.6 542.2,280.6 544.2,280.6 546.2,280.6 548.2,280.6 550.2,280.7 552.2,280.7 554.2,280.8 556.2,281.0 558.2,281.1 560.2,281.2 562.2,281.3 564.2,281.4 566.2,281.4 568.2,281.4 570.2,281.4 572.2,281.4 574.2,281.4 576.2,281.4 578.2,281.3 580.2,281.3 582.2,281.3 584.2,281.2 586.2,281.2 588.2,281.1 590.2,281.1 592.2,281.0 594.2,281.0 596.2,280.9 598.2,280.9 600.2,280.8 602.2,280.8 604.2,280.7 606.2,280.7 608.2,280.7 610.2,280.6 612.2,280.6 614.2,280.6 616.2,280.6 618.2,280.5 620.2,280.5 622.2,280.5 624.2,280.5 626.2,280.5 628.2,280.4 630.2,280.4 632.2,280.4 634.2,280.4 636.2,280.3 638.2,280.3 640.2,280.3 642.2,280.3 644.2,280.3 646.2,280.2 648.2,280.2 650.2,280.2 652.2,280.2 654.2,280.1 656.2,280.1 658.2,280.1 660.2,280.1 662.2,280.0 664.2,280.0 666.2,280.0 668.2,280.0 670.2,280.0 672.2,279.9 674.2,279.9 676.2,279.9 678.2,279.9 680.2,279.9 682.2,279.8 684.2,279.8 686.2,279.8 688.2,279.8 690.2,279.8 692.2,279.7 694.2,279.7 695.9,279.7"/>
</g>
<g font-family="'Liberation Serif', serif" fill="#000" stroke="#fff" stroke-width="0.2">
<g transform="translate(52.75,372.22) scale(1.06,1)"><text font-size="28.5">10</text></g><path d="M84.80,356.22h15" stroke="#000" stroke-width="1.25" fill="none"/><g transform="translate(103.00,362.92) scale(1.06,1)"><text font-size="22.0">2</text></g>
<g transform="translate(72.65,306.30) scale(1.06,1)"><text font-size="28.5">10</text></g><g transform="translate(102.70,297.00) scale(1.06,1)"><text font-size="22.0">0</text></g>
<g transform="translate(72.65,240.38) scale(1.06,1)"><text font-size="28.5">10</text></g><g transform="translate(102.70,231.08) scale(1.06,1)"><text font-size="22.0">2</text></g>
<g transform="translate(72.65,174.46) scale(1.06,1)"><text font-size="28.5">10</text></g><g transform="translate(102.70,165.16) scale(1.06,1)"><text font-size="22.0">4</text></g>
<g transform="translate(72.65,108.54) scale(1.06,1)"><text font-size="28.5">10</text></g><g transform="translate(102.70,99.24) scale(1.06,1)"><text font-size="22.0">6</text></g>
<g transform="translate(72.65,42.62) scale(1.06,1)"><text font-size="28.5">10</text></g><g transform="translate(102.70,33.32) scale(1.06,1)"><text font-size="22.0">8</text></g>
<g transform="translate(112.15,437.00) scale(1.06,1)"><text font-size="28.5">10</text></g><g transform="translate(142.20,427.70) scale(1.06,1)"><text font-size="22.0">0</text></g>
<g transform="translate(174.31,437.00) scale(1.06,1)"><text font-size="28.5">10</text></g><g transform="translate(204.36,427.70) scale(1.06,1)"><text font-size="22.0">1</text></g>
<g transform="translate(236.47,437.00) scale(1.06,1)"><text font-size="28.5">10</text></g><g transform="translate(266.52,427.70) scale(1.06,1)"><text font-size="22.0">2</text></g>
<g transform="translate(298.63,437.00) scale(1.06,1)"><text font-size="28.5">10</text></g><g transform="translate(328.68,427.70) scale(1.06,1)"><text font-size="22.0">3</text></g>
<g transform="translate(360.79,437.00) scale(1.06,1)"><text font-size="28.5">10</text></g><g transform="translate(390.84,427.70) scale(1.06,1)"><text font-size="22.0">4</text></g>
<g transform="translate(422.95,437.00) scale(1.06,1)"><text font-size="28.5">10</text></g><g transform="translate(453.00,427.70) scale(1.06,1)"><text font-size="22.0">5</text></g>
<g transform="translate(485.11,437.00) scale(1.06,1)"><text font-size="28.5">10</text></g><g transform="translate(515.16,427.70) scale(1.06,1)"><text font-size="22.0">6</text></g>
<g transform="translate(547.27,437.00) scale(1.06,1)"><text font-size="28.5">10</text></g><g transform="translate(577.32,427.70) scale(1.06,1)"><text font-size="22.0">7</text></g>
<g transform="translate(609.43,437.00) scale(1.06,1)"><text font-size="28.5">10</text></g><g transform="translate(639.48,427.70) scale(1.06,1)"><text font-size="22.0">8</text></g>
<g transform="translate(671.59,437.00) scale(1.06,1)"><text font-size="28.5">10</text></g><g transform="translate(701.64,427.70) scale(1.06,1)"><text font-size="22.0">9</text></g>
<g transform="translate(406.20,485.30) scale(1.0,1)"><text font-size="42" font-style="italic">t</text></g>
<g transform="translate(41.1,249.8) rotate(-90)"><g transform="translate(0.00,0.00) scale(1.0,1)"><text font-size="40" font-style="italic">D</text></g><g transform="translate(33.00,0.10) scale(0.8,1)"><text font-size="43.2">(</text></g><g transform="translate(44.60,0.00) scale(1.0,1)"><text font-size="42" font-style="italic">t</text></g><g transform="translate(59.60,0.10) scale(0.8,1)"><text font-size="43.2">)</text></g></g>
<g transform="translate(164.20,78.60) scale(0.8,1)"><text font-size="42.0">(</text></g>
<g transform="translate(176.80,78.20) scale(1.0,1)"><text font-size="38">c</text></g>
<g transform="translate(194.60,78.60) scale(0.8,1)"><text font-size="42.0">)</text></g>
</g>
</svg>
</body></html>
